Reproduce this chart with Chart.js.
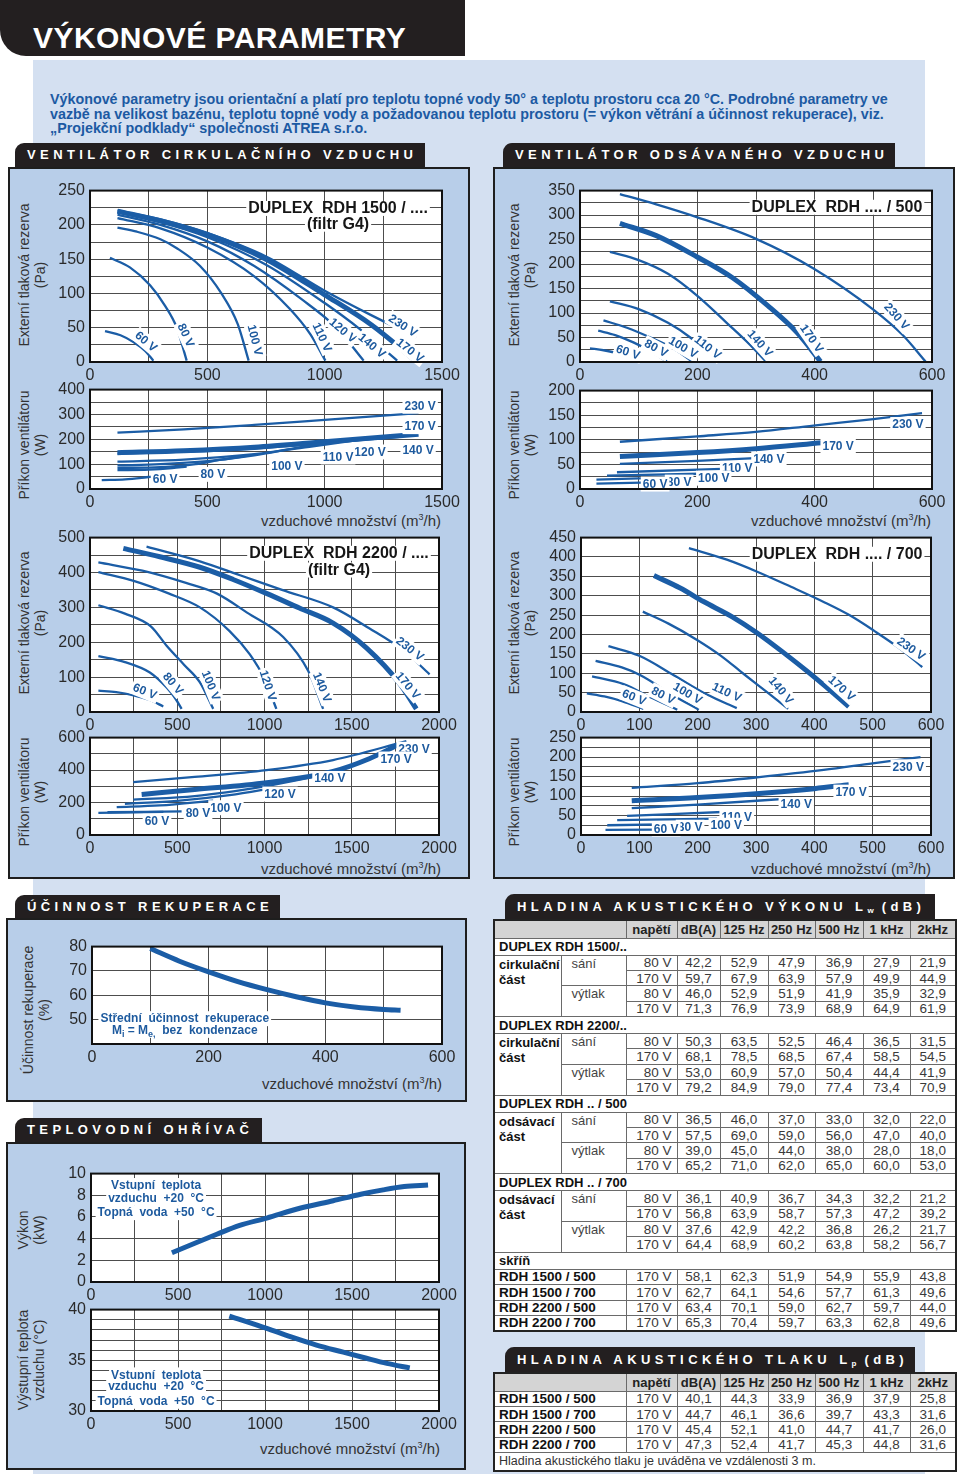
<!DOCTYPE html>
<html><head><meta charset="utf-8">
<script src="https://cdn.jsdelivr.net/npm/chart.js@4.4.0/dist/chart.umd.min.js"></script>
<style>
body{margin:0;width:960px;height:1474px;position:relative;overflow:hidden;background:#fff;font-family:"Liberation Sans",Arial,sans-serif;}
.tab{position:absolute;background:#231f20;color:#fff;font-weight:bold;font-size:13px;letter-spacing:4.4px;border-top-left-radius:9px;box-sizing:border-box;padding-left:12px;white-space:nowrap}
.tab sub{font-size:8px;letter-spacing:0;vertical-align:-2px}
.box{position:absolute;background:#b8cee9;border:2px solid #1e1e1e;box-sizing:border-box}
.vt{position:absolute;transform:translate(-50%,-50%) rotate(-90deg);white-space:nowrap;text-align:center;font-size:14px;line-height:16px;color:#333}
.xt{position:absolute;white-space:nowrap;font-size:15px;color:#333;text-align:right;line-height:16px}
.xt sup{font-size:9px}
canvas{position:absolute}
table{position:absolute;border-collapse:collapse;table-layout:fixed;background:#fff;font-size:13.5px;color:#3a3a3a;border:2px solid #222}
td{border:1px solid #6a6a6a;padding:0;white-space:nowrap;overflow:hidden;line-height:13px}
tr.d{height:15.4px}
tr.g{height:17px}
tr.g td{font-weight:bold;color:#111;padding-left:4px;font-size:13px}
tr.h{height:18px}
tr.h td{background:#d4d4d4;font-weight:bold;color:#222;text-align:center;font-size:13px}
td.l1{font-weight:bold;color:#111;vertical-align:top;padding:1px 0 0 4px;line-height:15px;font-size:13px}
td.l2{vertical-align:top;padding:1px 0 0 10px;color:#444;font-size:13px}
td.u{text-align:right;padding-right:5px}
td.v{text-align:center}
td.k{font-weight:bold;color:#111;padding-left:4px;font-size:13.5px}
.intro{position:absolute;left:50px;white-space:nowrap;font-weight:bold;font-size:14.3px;line-height:14px;color:#1c5aa3}
</style></head>
<body>
<div style="position:absolute;left:33px;top:60px;width:892px;height:1414px;background:#d4e0f1"></div>
<div style="position:absolute;left:0;top:0;width:465px;height:56px;background:#231f20;border-bottom-left-radius:26px"></div>
<div style="position:absolute;left:33px;top:23px;font-weight:bold;font-size:30px;line-height:30px;letter-spacing:0.45px;color:#fff;white-space:nowrap">VÝKONOVÉ PARAMETRY</div>
<div class="intro" style="top:92px">Výkonové parametry jsou orientační a platí pro teplotu topné vody 50° a teplotu prostoru cca 20 °C. Podrobné parametry ve</div>
<div class="intro" style="top:106.5px">vazbě na velikost bazénu, teplotu topné vody a požadovanou teplotu prostoru (= výkon větrání a účinnost rekuperace), viz.</div>
<div class="intro" style="top:121px">„Projekční podklady“ společnosti ATREA s.r.o.</div>

<div class="box" style="left:8px;top:167px;width:462px;height:712px"></div>
<div class="box" style="left:493px;top:167px;width:462px;height:712px"></div>
<div class="box" style="left:6px;top:918px;width:461px;height:184px"></div>
<div class="box" style="left:6px;top:1142px;width:460px;height:328px"></div>

<div class="tab" style="left:15px;top:143px;width:410px;height:24px;line-height:24px">VENTILÁTOR CIRKULAČNÍHO VZDUCHU</div>
<div class="tab" style="left:503px;top:143px;width:392px;height:24px;line-height:24px">VENTILÁTOR ODSÁVANÉHO VZDUCHU</div>
<div class="tab" style="left:15px;top:895px;width:265px;height:23px;line-height:23px">ÚČINNOST REKUPERACE</div>
<div class="tab" style="left:15px;top:1118px;width:247px;height:24px;line-height:24px">TEPLOVODNÍ OHŘÍVAČ</div>
<div class="tab" style="left:505px;top:894px;width:430px;height:25px;line-height:25px">HLADINA AKUSTICKÉHO VÝKONU L<sub>w</sub> (dB)</div>
<div class="tab" style="left:505px;top:1347px;width:410px;height:25px;line-height:25px">HLADINA AKUSTICKÉHO TLAKU L<sub>p</sub> (dB)</div>

<div class="vt" style="left:32px;top:275px">Externí tlaková rezerva<br>(Pa)</div>
<div class="vt" style="left:32px;top:445px">Příkon ventilátoru<br>(W)</div>
<div class="vt" style="left:32px;top:623px">Externí tlaková rezerva<br>(Pa)</div>
<div class="vt" style="left:32px;top:792px">Příkon ventilátoru<br>(W)</div>
<div class="vt" style="left:522px;top:275px">Externí tlaková rezerva<br>(Pa)</div>
<div class="vt" style="left:522px;top:445px">Příkon ventilátoru<br>(W)</div>
<div class="vt" style="left:522px;top:623px">Externí tlaková rezerva<br>(Pa)</div>
<div class="vt" style="left:522px;top:792px">Příkon ventilátoru<br>(W)</div>
<div class="vt" style="left:36px;top:1010px">Účinnost rekuperace<br>(%)</div>
<div class="vt" style="left:31px;top:1230px">Výkon<br>(kW)</div>
<div class="vt" style="left:31px;top:1360px">Výstupní teplota<br>vzduchu (°C)</div>

<div class="xt" style="right:519px;top:509px">vzduchové množství (m<sup>3</sup>/h)</div>
<div class="xt" style="right:519px;top:857px">vzduchové množství (m<sup>3</sup>/h)</div>
<div class="xt" style="right:29px;top:509px">vzduchové množství (m<sup>3</sup>/h)</div>
<div class="xt" style="right:29px;top:857px">vzduchové množství (m<sup>3</sup>/h)</div>
<div class="xt" style="right:518px;top:1072px">vzduchové množství (m<sup>3</sup>/h)</div>
<div class="xt" style="right:520px;top:1437px">vzduchové množství (m<sup>3</sup>/h)</div>

<table id="t1" style="left:493px;top:919px;width:462px"></table>
<table id="t2" style="left:493px;top:1372px;width:462px"></table>

<script>
// ---------------- DATA ----------------
// DUPLEX RDH 1500 - external pressure (m3/h, Pa)
const p1500_60V  = [[64,45],[130,39],[185,29],[235,16],[270,2]];
const p1500_80V  = [[85,152],[170,138],[256,112],[320,82],[370,50],[412,2]];
const p1500_100V = [[117,196],[200,190],[300,179],[370,166],[469,140],[560,100],[630,55],[676,2]];
const p1500_110V = [[117,210],[300,195],[500,167],[700,125],[850,78],[940,40],[1003,2]];
const p1500_120V = [[117,215],[300,200],[500,176],[700,140],[900,92],[1050,50],[1166,2]];
const p1500_140V = [[117,218],[300,204],[500,182],[750,142],[1000,86],[1150,48],[1309,2]];
const p1500_170V = [[117,220],[300,206],[500,186],[750,150],[1000,98],[1200,54],[1387,2]];
const p1500_230V = [[117,221],[300,208],[500,188],[750,154],[1000,104],[1200,68],[1390,36]];
// DUPLEX RDH 1500 - fan power (m3/h, W)
const w1500_60V  = [[50,36],[150,39],[220,45],[263,50]];
const w1500_80V  = [[117,76],[250,78],[350,84],[412,90]];
const w1500_100V = [[117,85],[300,88],[450,100],[560,118],[676,134]];
const w1500_110V = [[117,95],[300,100],[500,112],[700,135],[850,160],[1003,186]];
const w1500_120V = [[117,110],[400,118],[700,140],[950,172],[1166,200]];
const w1500_140V = [[117,142],[400,150],[700,162],[1000,185],[1320,210]];
const w1500_170V = [[117,146],[400,154],[700,168],[1000,190],[1400,220]];
const w1500_230V = [[117,227],[400,240],[700,258],[1000,278],[1400,305]];
// DUPLEX RDH 2200 - external pressure
const p2200_60V  = [[48,61],[150,57],[250,48],[340,35],[420,16]];
const p2200_80V  = [[48,160],[200,143],[343,113],[439,70],[490,38],[525,9]];
const p2200_100V = [[48,306],[200,282],[350,245],[439,190],[540,135],[630,85],[706,9]];
const p2200_120V = [[48,401],[250,376],[450,340],[630,300],[800,232],[916,165],[1000,95],[1068,9]];
const p2200_140V = [[48,429],[300,405],[550,370],[725,340],[900,285],[1107,215],[1250,118],[1336,9]];
const p2200_170V = [[191,469],[400,445],[630,415],[820,380],[1011,340],[1200,298],[1393,255],[1584,184],[1774,82],[1870,9]];
const p2200_230V = [[324,474],[630,432],[860,392],[1100,350],[1393,300],[1600,240],[1800,175],[1946,108]];
// DUPLEX RDH 2200 - fan power
const w2200_60V  = [[48,136],[420,142]];
const w2200_80V  = [[100,140],[525,146]];
const w2200_100V = [[153,172],[400,182],[706,212]];
const w2200_120V = [[200,192],[500,210],[800,245],[1068,292]];
const w2200_140V = [[248,218],[600,240],[1000,300],[1336,370]];
const w2200_170V = [[296,250],[600,280],[1011,322],[1393,392],[1600,470],[1774,560]];
const w2200_230V = [[248,326],[600,358],[1011,400],[1393,462],[1813,578]];
// DUPLEX RDH .../500 - external pressure
const p500_60V  = [[17,28],[40,24],[70,16],[97,3]];
const p500_80V  = [[31,64],[60,55],[91,40],[120,22],[148,1]];
const p500_100V = [[40,85],[80,70],[120,50],[160,27],[191,1]];
const p500_110V = [[51,124],[100,108],[150,80],[188,50],[233,1]];
const p500_140V = [[51,225],[100,208],[150,180],[200,135],[250,80],[290,35],[317,1]];
const p500_170V = [[68,283],[130,258],[199,215],[260,172],[320,115],[370,60],[410,1]];
const p500_230V = [[68,343],[130,322],[199,296],[301,251],[398,191],[500,107],[550,55],[589,1]];
// DUPLEX RDH .../500 - fan power
const w500_60V  = [[28,11],[105,13]];
const w500_80V  = [[28,19],[145,23]];
const w500_100V = [[46,27],[205,31]];
const w500_110V = [[63,34],[242,41]];
const w500_140V = [[68,51],[200,57],[321,64]];
const w500_170V = [[68,66],[200,74],[300,82],[412,94]];
const w500_230V = [[68,96],[200,107],[300,116],[398,129],[500,142],[583,154]];
// DUPLEX RDH .../700 - external pressure
const p700_60V  = [[10,48],[40,40],[70,28],[107,8]];
const p700_80V  = [[19,92],[73,72],[119,38],[165,6]];
const p700_100V = [[25,132],[70,115],[102,95],[159,42],[202,6]];
const p700_110V = [[47,170],[100,145],[159,95],[216,45],[267,10]];
const p700_140V = [[106,259],[150,228],[199,186],[240,145],[279,98],[320,50],[355,8]];
const p700_170V = [[125,352],[170,320],[210,285],[260,245],[302,204],[350,150],[387,106],[430,52],[459,14]];
const p700_230V = [[185,423],[250,393],[302,362],[360,323],[416,284],[460,250],[502,210],[550,160],[585,116]];
// DUPLEX RDH .../700 - fan power
const w700_60V  = [[42,13],[127,14]];
const w700_80V  = [[45,25],[170,28]];
const w700_100V = [[62,38],[233,42]];
const w700_110V = [[79,49],[273,61]];
const w700_140V = [[87,69],[200,78],[362,94]];
const w700_170V = [[87,88],[200,96],[300,106],[400,119],[459,129]];
const w700_230V = [[87,121],[200,133],[302,148],[416,167],[500,184],[582,200]];
// heat recovery efficiency (m3/h, %)
const efficiency = [[100,79.2],[150,74],[200,69.6],[250,65.6],[300,62.3],[350,59.4],[400,56.9],[450,55.2],[500,54.2],[529,53.9]];
// water heater
const heaterPower = [[465,2.7],[600,3.6],[723,4.4],[850,5.2],[1010,5.9],[1200,6.8],[1392,7.5],[1550,8.1],[1679,8.5],[1800,8.8],[1937,8.95]];
const heaterTemp  = [[795,39.36],[1010,38.15],[1150,37.3],[1296,36.5],[1450,35.8],[1583,35.2],[1700,34.7],[1832,34.25]];
// curve labels: [text, x, y, rotation]
const lab_p1500 = [['60 V',239,30,40],['80 V',409,39,65],['100 V',703,32,76],['110 V',989,36,65],['120 V',1078,46,40],['140 V',1202,24,40],['170 V',1364,17,38],['230 V',1334,53,33]];
const lab_w1500 = [['230 V',1407,333,0],['170 V',1407,251,0],['140 V',1398,157,0],['120 V',1193,149,0],['110 V',1057,129,0],['100 V',839,90,0],['80 V',524,59,0],['60 V',320,39,0]];
const lab_p2200 = [['60 V',315,59,22],['80 V',476,82,50],['100 V',693,76,68],['120 V',1020,76,72],['140 V',1330,71,68],['170 V',1822,76,50],['230 V',1834,181,38]];
const lab_w2200 = [['230 V',1857,528,0],['170 V',1754,468,0],['140 V',1375,348,0],['120 V',1089,252,0],['100 V',779,168,0],['80 V',619,132,0],['60 V',384,84,0]];
const lab_p500 = [['60 V',82,20,18],['80 V',130,28,28],['100 V',176,30,30],['110 V',218,30,38],['140 V',307,38,48],['170 V',395,48,55],['230 V',540,93,48]];
const lab_w500 = [['230 V',559,131,0],['170 V',440,87,0],['140 V',322,61,0],['110 V',268,42,0],['100 V',228,22,0],['80 V',169,14,0],['60 V',128,10,0]];
const lab_p700 = [['60 V',91,38,22],['80 V',141,43,27],['100 V',183,48,30],['110 V',250,51,25],['140 V',343,56,50],['170 V',447,61,42],['230 V',566,163,35]];
const lab_w700 = [['230 V',561,175,0],['170 V',463,110,0],['140 V',369,78,0],['110 V',267,45,0],['100 V',249,25,0],['80 V',187,20,0],['60 V',146,15,0]];
// acoustic tables
const tblHeader = ['napětí','dB(A)','125 Hz','250 Hz','500 Hz','1 kHz','2kHz'];
const lw1500 = [['80 V','42,2','52,9','47,9','36,9','27,9','21,9'],['170 V','59,7','67,9','63,9','57,9','49,9','44,9'],['80 V','46,0','52,9','51,9','41,9','35,9','32,9'],['170 V','71,3','76,9','73,9','68,9','64,9','61,9']];
const lw2200 = [['80 V','50,3','63,5','52,5','46,4','36,5','31,5'],['170 V','68,1','78,5','68,5','67,4','58,5','54,5'],['80 V','53,0','60,9','57,0','50,4','44,4','41,9'],['170 V','79,2','84,9','79,0','77,4','73,4','70,9']];
const lw500 = [['80 V','36,5','46,0','37,0','33,0','32,0','22,0'],['170 V','57,5','69,0','59,0','56,0','47,0','40,0'],['80 V','39,0','45,0','44,0','38,0','28,0','18,0'],['170 V','65,2','71,0','62,0','65,0','60,0','53,0']];
const lw700 = [['80 V','36,1','40,9','36,7','34,3','32,2','21,2'],['170 V','56,8','63,9','58,7','57,3','47,2','39,2'],['80 V','37,6','42,9','42,2','36,8','26,2','21,7'],['170 V','64,4','68,9','60,2','63,8','58,2','56,7']];
const lwCase = [['RDH 1500 / 500','170 V','58,1','62,3','51,9','54,9','55,9','43,8'],['RDH 1500 / 700','170 V','62,7','64,1','54,6','57,7','61,3','49,6'],['RDH 2200 / 500','170 V','63,4','70,1','59,0','62,7','59,7','44,0'],['RDH 2200 / 700','170 V','65,3','70,4','59,7','63,3','62,8','49,6']];
const lpCase = [['RDH 1500 / 500','170 V','40,1','44,3','33,9','36,9','37,9','25,8'],['RDH 1500 / 700','170 V','44,7','46,1','36,6','39,7','43,3','31,6'],['RDH 2200 / 500','170 V','45,4','52,1','41,0','44,7','41,7','26,0'],['RDH 2200 / 700','170 V','47,3','52,4','41,7','45,3','44,8','31,6']];

// ---------------- RENDERING ----------------
const FONT = '"Liberation Sans", Arial, sans-serif';
const BLUE = '#1b5da6', LBL = '#1d5a9e';

const ovPlugin = {
  id: 'ovp',
  beforeDraw(chart){
    const a = chart.chartArea, c = chart.ctx;
    c.save(); c.fillStyle = '#fff'; c.fillRect(a.left, a.top, a.right-a.left, a.bottom-a.top); c.restore();
  },
  afterDatasetsDraw(chart){
    const ov = chart.canvas._ov || {}, c = chart.ctx, xs = chart.scales.x, ys = chart.scales.y;
    (ov.labels||[]).forEach(l=>{
      tag(c, xs.getPixelForValue(l[1]), ys.getPixelForValue(l[2]), [[l[0]]], l[3], 'bold 12px '+FONT, LBL);
    });
    (ov.titles||[]).forEach(t=>{
      tag(c, xs.getPixelForValue(t[1]), ys.getPixelForValue(t[2]), [[t[0]]], 0, 'bold 16px '+FONT, '#161616');
    });
    (ov.notes||[]).forEach(t=>{
      tag(c, xs.getPixelForValue(t[1]), ys.getPixelForValue(t[2]), t[0], 0, 'bold 12px '+FONT, LBL);
    });
  },
  afterDraw(chart){
    const a = chart.chartArea, c = chart.ctx;
    c.save(); c.strokeStyle = '#111'; c.lineWidth = 2;
    c.strokeRect(a.left, a.top, a.right-a.left, a.bottom-a.top); c.restore();
  }
};
// segs: [[text, isSub], ...]
function tag(c, x, y, segs, rot, font, color){
  c.save(); c.translate(x, y); c.rotate(rot*Math.PI/180);
  const small = font.replace(/(\d+(\.\d+)?)px/, '9px');
  let w = 0;
  segs.forEach(s=>{ c.font = s[1]?small:font; w += c.measureText(s[0]).width; });
  c.fillStyle = '#fff'; c.fillRect(-w/2-2, -7.5, w+4, 15);
  c.fillStyle = color; c.textBaseline = 'middle'; c.textAlign = 'left';
  let cx = -w/2;
  segs.forEach(s=>{ c.font = s[1]?small:font; c.fillText(s[0], cx, s[1]?4:0.5); cx += c.measureText(s[0]).width; });
  c.restore();
}

function mk(P, X, Y, series, ov){
  const YW=60, XH=24, PT=12, PR=26;
  const cv = document.createElement('canvas');
  const w = P.R-P.L+YW+PR, h = P.B-P.T+PT+XH;
  cv.width = w; cv.height = h;
  cv.style.left = (P.L-YW)+'px'; cv.style.top = (P.T-PT)+'px';
  cv.style.width = w+'px'; cv.style.height = h+'px';
  cv._ov = ov;
  document.body.appendChild(cv);
  const lab = (A)=> (v)=> {
    if (A.hideMin && v===A.min) return '';
    const r = (v - (A.base||0))/A.every;
    return Math.abs(r-Math.round(r))<1e-6 ? String(v) : '';
  };
  const axis = (A, isX)=>({
    type:'linear', min:A.min, max:A.max,
    afterFit: s=>{ if(isX) s.height = XH; else s.width = YW; },
    ticks:{stepSize:A.step, autoSkip:false, maxRotation:0, padding: isX?4:5, color:'#2a2a2a',
           font:{size:16, family:FONT}, callback: lab(A)},
    grid:{color:'#4d4d4d', lineWidth:1, drawTicks:false},
    border:{display:false}
  });
  new Chart(cv, {
    type:'line',
    data:{datasets: series.map(s=>({
      label:s.n, data:s.d.map(p=>({x:p[0], y:p[1]})), borderColor:BLUE,
      borderWidth: s.thick?5:2.3, pointRadius:0, tension:0.4, cubicInterpolationMode:'monotone', fill:false
    }))},
    options:{responsive:false, animation:false, events:[],
      layout:{padding:{top:PT, right:PR, left:0, bottom:0}},
      plugins:{legend:{display:false}, tooltip:{enabled:false}},
      scales:{x:axis(X,true), y:axis(Y,false)}},
    plugins:[ovPlugin]
  });
}
const ser = (arr)=> arr.map(d=>({n:d[0], d:d[1], thick:d[0]==='170 V'}));

mk({L:90,T:188,R:442,B:362},{min:0,max:1500,step:250,every:500},{min:0,max:250,step:25,every:50},
  ser([['60 V',p1500_60V],['80 V',p1500_80V],['100 V',p1500_100V],['110 V',p1500_110V],['120 V',p1500_120V],['140 V',p1500_140V],['170 V',p1500_170V],['230 V',p1500_230V]]),
  {labels:lab_p1500, titles:[['DUPLEX  RDH 1500 / ....',1057,224],['(filtr G4)',1057,201]]});
mk({L:90,T:387,R:442,B:489},{min:0,max:1500,step:250,every:500},{min:0,max:400,step:50,every:100},
  ser([['60 V',w1500_60V],['80 V',w1500_80V],['100 V',w1500_100V],['110 V',w1500_110V],['120 V',w1500_120V],['140 V',w1500_140V],['170 V',w1500_170V],['230 V',w1500_230V]]),
  {labels:lab_w1500});
mk({L:90,T:535,R:439,B:712},{min:0,max:2000,step:250,every:500},{min:0,max:500,step:50,every:100},
  ser([['60 V',p2200_60V],['80 V',p2200_80V],['100 V',p2200_100V],['120 V',p2200_120V],['140 V',p2200_140V],['170 V',p2200_170V],['230 V',p2200_230V]]),
  {labels:lab_p2200, titles:[['DUPLEX  RDH 2200 / ....',1427,455],['(filtr G4)',1427,407]]});
mk({L:90,T:735,R:439,B:835},{min:0,max:2000,step:250,every:500},{min:0,max:600,step:100,every:200},
  ser([['60 V',w2200_60V],['80 V',w2200_80V],['100 V',w2200_100V],['120 V',w2200_120V],['140 V',w2200_140V],['170 V',w2200_170V],['230 V',w2200_230V]]),
  {labels:lab_w2200});
mk({L:580,T:188,R:932,B:362},{min:0,max:600,step:100,every:200},{min:0,max:350,step:25,every:50},
  ser([['60 V',p500_60V],['80 V',p500_80V],['100 V',p500_100V],['110 V',p500_110V],['140 V',p500_140V],['170 V',p500_170V],['230 V',p500_230V]]),
  {labels:lab_p500, titles:[['DUPLEX  RDH .... / 500',438,316]]});
mk({L:580,T:388,R:932,B:489},{min:0,max:600,step:100,every:200},{min:0,max:200,step:25,every:50},
  ser([['60 V',w500_60V],['80 V',w500_80V],['100 V',w500_100V],['110 V',w500_110V],['140 V',w500_140V],['170 V',w500_170V],['230 V',w500_230V]]),
  {labels:lab_w500});
mk({L:581,T:535,R:931,B:712},{min:0,max:600,step:100,every:100},{min:0,max:450,step:50,every:50},
  ser([['60 V',p700_60V],['80 V',p700_80V],['100 V',p700_100V],['110 V',p700_110V],['140 V',p700_140V],['170 V',p700_170V],['230 V',p700_230V]]),
  {labels:lab_p700, titles:[['DUPLEX  RDH .... / 700',439,407]]});
mk({L:581,T:735,R:931,B:835},{min:0,max:600,step:100,every:100},{min:0,max:250,step:25,every:50},
  ser([['60 V',w700_60V],['80 V',w700_80V],['100 V',w700_100V],['110 V',w700_110V],['140 V',w700_140V],['170 V',w700_170V],['230 V',w700_230V]]),
  {labels:lab_w700});
mk({L:92,T:944,R:442,B:1044},{min:0,max:600,step:100,every:200},{min:40,max:80,step:10,every:10,hideMin:true},
  [{n:'účinnost', d:efficiency, thick:true}],
  {notes:[[[['Střední  účinnost  rekuperace']],159,50.4],[[['M'],['i',1],[' = M'],['e,',1],['  bez  kondenzace']],159,45.6]]});
mk({L:91,T:1171,R:439,B:1282},{min:0,max:2000,step:250,every:500},{min:0,max:10,step:2,every:2},
  [{n:'výkon', d:heaterPower, thick:true}],
  {notes:[[[['Vstupní  teplota']],374,8.9],[[['vzduchu  +20  °C']],374,7.75],[[['Topná  voda  +50  °C']],374,6.4]]});
mk({L:91,T:1307,R:439,B:1411},{min:0,max:2000,step:250,every:500},{min:30,max:40,step:1,every:5,base:30},
  [{n:'teplota', d:heaterTemp, thick:true}],
  {notes:[[[['Vstupní  teplota']],374,33.56],[[['vzduchu  +20  °C']],374,32.4],[[['Topná  voda  +50  °C']],374,30.96]]});

// tables
const colW = [67,65,51,43,48,47,48,47,46];
const cols = '<colgroup>'+colW.map(w=>`<col style="width:${w}px">`).join('')+'</colgroup>';
const head = '<tr class="h"><td colspan="2"></td>'+tblHeader.map(h=>`<td>${h}</td>`).join('')+'</tr>';
function grp(title, part, rows){
  let h = `<tr class="g"><td colspan="9">${title}</td></tr>`;
  rows.forEach((r,i)=>{
    h += '<tr class="d">';
    if(i===0) h += `<td rowspan="4" class="l1">${part}</td>`;
    if(i%2===0) h += `<td rowspan="2" class="l2">${i===0?'sání':'výtlak'}</td>`;
    h += `<td class="u">${r[0]}</td>` + r.slice(1).map(v=>`<td class="v">${v}</td>`).join('') + '</tr>';
  });
  return h;
}
function caseRows(rows){
  return rows.map(r=>`<tr class="d"><td colspan="2" class="k">${r[0]}</td><td class="u">${r[1]}</td>`+r.slice(2).map(v=>`<td class="v">${v}</td>`).join('')+'</tr>').join('');
}
document.getElementById('t1').innerHTML = cols + head +
  grp('DUPLEX RDH 1500/..','cirkulační<br>část',lw1500) +
  grp('DUPLEX RDH 2200/..','cirkulační<br>část',lw2200) +
  grp('DUPLEX RDH .. / 500','odsávací<br>část',lw500) +
  grp('DUPLEX RDH .. / 700','odsávací<br>část',lw700) +
  '<tr class="g"><td colspan="9">skříň</td></tr>' + caseRows(lwCase);
document.getElementById('t2').innerHTML = cols + head + caseRows(lpCase) +
  '<tr style="height:18px"><td colspan="9" style="padding-left:4px;font-size:12.5px;color:#333">Hladina akustického tlaku je uváděna ve vzdálenosti 3 m.</td></tr>';
</script>
</body></html>
